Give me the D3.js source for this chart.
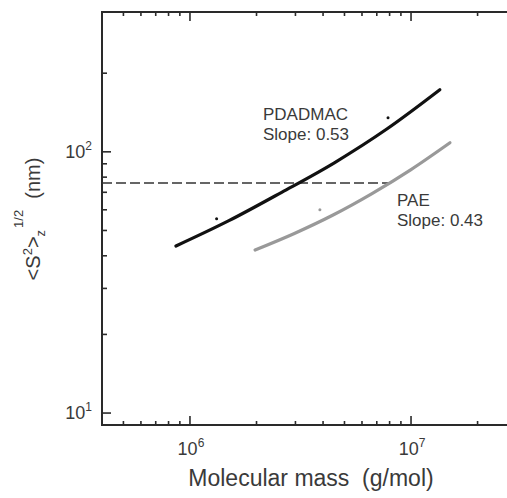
<!DOCTYPE html>
<html>
<head>
<meta charset="utf-8">
<script src="https://cdn.jsdelivr.net/npm/d3@7"></script>
<style>
  body { margin: 0; background: #fff; }
  svg { display: block; }
  text { font-family: "Liberation Sans", Arial, sans-serif; fill: #3a3a3a; }
</style>
</head>
<body>
<svg id="chart"></svg>
<script>
const width = 507, height = 498;

// molar mass (g/mol) -> <S^2>z^1/2 (nm)
const pdadmacMass = [8.64e5, 1.50e6, 2.60e6, 4.50e6, 7.80e6, 1.35e7];
const pdadmacRadius = [43.6, 54.5, 70.0, 90.8, 122.5, 172.8];
const paeMass = [1.97e6, 2.95e6, 4.44e6, 6.66e6, 1.0e7, 1.50e7];
const paeRadius = [42.1, 48.6, 57.3, 69.2, 85.5, 108.3];

// a few stray points off the traces
const pdadmacStray = [[1.32e6, 55.4], [7.87e6, 135]];
const paeStray = [[3.87e6, 60]];

// dashed reference level
const refRadius = 76;
const refEndMass = 8.04e6;

const xMajor = [1e6, 1e7];
const xMinor = [5e5, 6e5, 7e5, 8e5, 9e5, 2e6, 3e6, 4e6, 5e6, 6e6, 7e6, 8e6, 9e6, 2e7];
const xExp = ['6', '7'];
const yMajor = [10, 100];
const yMinor = [20, 30, 40, 50, 60, 70, 80, 90, 200];
const yExp = ['1', '2'];

const plotLeft = 102, plotTop = 12, plotBottom = 425, plotRight = 516.5;

const x = d3.scaleLog().domain([4e5, 3e7]).range([plotLeft, plotRight]);
const y = d3.scaleLog().domain([9, 343]).range([plotBottom, plotTop]);

const svg = d3.select('#chart')
    .attr('width', width)
    .attr('height', height);

const axisColor = '#2a2a2a';
const axes = svg.append('g')
    .attr('stroke', axisColor)
    .attr('stroke-width', 1.6);

// frame: left, bottom and top (right side runs past the window)
axes.append('path')
    .attr('fill', 'none')
    .attr('stroke-width', 2)
    .attr('d', `M${plotRight},${plotTop}H${plotLeft}V${plotBottom}H${plotRight}`);

// ticks point inwards on every side
const xTicks = xMajor.map(v => [v, 9]).concat(xMinor.map(v => [v, 4]));
const yTicks = yMajor.map(v => [v, 9]).concat(yMinor.map(v => [v, 5]));

axes.append('g').selectAll('line')
    .data(xTicks)
    .join('line')
    .attr('x1', d => x(d[0]))
    .attr('x2', d => x(d[0]))
    .attr('y1', plotBottom)
    .attr('y2', d => plotBottom - d[1]);

axes.append('g').selectAll('line')
    .data(xTicks)
    .join('line')
    .attr('x1', d => x(d[0]))
    .attr('x2', d => x(d[0]))
    .attr('y1', plotTop)
    .attr('y2', d => plotTop + d[1]);

axes.append('g').selectAll('line')
    .data(yTicks)
    .join('line')
    .attr('y1', d => y(d[0]))
    .attr('y2', d => y(d[0]))
    .attr('x1', plotLeft)
    .attr('x2', d => plotLeft + d[1]);

// power-of-ten tick labels
const xLab = svg.append('g').selectAll('text')
    .data(xMajor)
    .join('text')
    .attr('x', d => x(d) + 1)
    .attr('y', 455)
    .attr('text-anchor', 'middle')
    .style('font-size', '18px');
xLab.append('tspan').text('10');
xLab.append('tspan').attr('dy', -8).style('font-size', '12px').text((d, i) => xExp[i]);

const yLab = svg.append('g').selectAll('text')
    .data(yMajor)
    .join('text')
    .attr('x', 92)
    .attr('y', d => y(d) + 6)
    .attr('text-anchor', 'end')
    .style('font-size', '18px');
yLab.append('tspan').text('10');
yLab.append('tspan').attr('dy', -8).style('font-size', '12px').text((d, i) => yExp[i]);

// dashed level line
svg.append('line')
    .attr('x1', plotLeft)
    .attr('x2', x(refEndMass))
    .attr('y1', y(refRadius))
    .attr('y2', y(refRadius))
    .attr('stroke', '#333')
    .attr('stroke-width', 1.4)
    .attr('stroke-dasharray', '10,4');

const line = d3.line()
    .x(d => x(d[0]))
    .y(d => y(d[1]))
    .curve(d3.curveMonotoneX);

const series = [
    { mass: paeMass, radius: paeRadius, stray: paeStray, color: '#999' },
    { mass: pdadmacMass, radius: pdadmacRadius, stray: pdadmacStray, color: '#111' },
];

series.forEach(s => {
    const pts = s.mass.map((m, i) => [m, s.radius[i]]);
    svg.append('path')
        .datum(pts)
        .attr('d', line)
        .attr('fill', 'none')
        .attr('stroke', s.color)
        .attr('stroke-width', 3.2)
        .attr('stroke-linecap', 'round');
    svg.append('g').selectAll('circle')
        .data(s.stray)
        .join('circle')
        .attr('cx', d => x(d[0]))
        .attr('cy', d => y(d[1]))
        .attr('r', 1.5)
        .attr('fill', s.color);
});

// annotations
const notes = [
    { lines: ['PDADMAC', 'Slope: 0.53'], x: 263, y: 120 },
    { lines: ['PAE', 'Slope: 0.43'], x: 397, y: 206 },
];
notes.forEach(n => {
    svg.append('text')
        .attr('x', n.x)
        .attr('y', n.y)
        .style('font-size', '17px')
        .selectAll('tspan')
        .data(n.lines)
        .join('tspan')
        .attr('x', n.x)
        .attr('dy', (d, i) => i ? 20 : 0)
        .text(d => d);
});

// axis titles
svg.append('text')
    .attr('x', 311)
    .attr('y', 486)
    .attr('text-anchor', 'middle')
    .style('font-size', '23px')
    .style('white-space', 'pre')
    .text('Molecular mass  (g/mol)');

const yTitle = svg.append('text')
    .attr('transform', 'translate(40,219) rotate(-90)')
    .attr('text-anchor', 'middle')
    .style('font-size', '20px')
    .style('white-space', 'pre');
yTitle.append('tspan').text('<S');
yTitle.append('tspan').attr('dy', -8).style('font-size', '13px').text('2');
yTitle.append('tspan').attr('dy', 8).text('>');
yTitle.append('tspan').attr('dy', 5).style('font-size', '13px').text('z');
yTitle.append('tspan').attr('dy', -22).attr('dx', 2).style('font-size', '13px').text('1/2');
yTitle.append('tspan').attr('dy', 17).text('  (nm)');
</script>
</body>
</html>
